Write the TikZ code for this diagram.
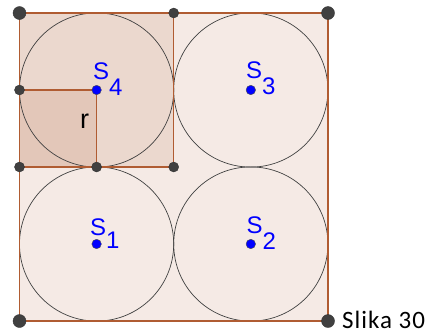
\documentclass[tikz,border=0pt]{standalone}
\usepackage{fontspec}
\usepackage{xcolor}
\setmainfont{Liberation Sans}
\newfontfamily\slikafont[LetterSpace=4]{Carlito}
\definecolor{geobrown}{RGB}{153,51,0}
\definecolor{geoline}{RGB}{176,92,50}
\definecolor{geodot}{RGB}{64,64,64}
\definecolor{geoblue}{RGB}{0,0,255}

\begin{document}
\begin{tikzpicture}[
    x=1pt, y=-1pt,
    area/.style={fill=geobrown, fill opacity=0.1},
    edge/.style={draw=geoline, line width=1.4pt, line join=round},
    ring/.style={draw=black!75, line width=0.7pt},
    bigdot/.style={circle, fill=geodot, draw=black!80, inner sep=0pt, minimum size=13pt},
    dot/.style={circle, fill=geodot, draw=black!80, inner sep=0pt, minimum size=10pt},
    ctrdot/.style={circle, fill=geoblue, draw=black!70, inner sep=0pt, minimum size=9.5pt},
    ctrlabel/.style={text=geoblue, anchor=base west, inner sep=0pt, font=\fontsize{24}{24}\selectfont}
  ]
    \useasboundingbox (0,0) rectangle (441,333);

    % corners and midpoints
    \coordinate (A) at (19.5,321);
    \coordinate (B) at (328,321);
    \coordinate (C) at (328,13);
    \coordinate (D) at (19.5,13);
    \coordinate (E) at (173.7,13);
    \coordinate (F) at (19.5,167);
    \coordinate (G) at (173.7,167);
    \coordinate (H) at (96.6,167);
    \coordinate (K) at (19.5,90);
    % centres
    \coordinate (S1) at (96.6,244);
    \coordinate (S2) at (250.8,244);
    \coordinate (S3) at (250.8,90);
    \coordinate (S4) at (96.6,90);

    \fill[area] (A) -- (B) -- (C) -- (D) -- cycle;
    \fill[area] (F) -- (G) -- (E) -- (D) -- cycle;
    \fill[area] (F) -- (H) -- (S4) -- (K) -- cycle;

    \foreach \s in {S1,S2,S3,S4}
      \draw[ring] (\s) circle[radius=77.1];

    \draw[edge] (A) -- (B) -- (C) -- (D) -- cycle;
    \draw[edge] (F) -- (G) -- (E) -- (D) -- cycle;
    \draw[edge] (F) -- (H) -- (S4) -- (K) -- cycle;

    \foreach \p in {A,B,C,D}
      \node[bigdot] (dot\p) at (\p) {};
    \foreach \p in {E,F,G,H,K}
      \node[dot] (dot\p) at (\p) {};
    \foreach \s in {S1,S2,S3,S4}
      \node[ctrdot] (dot\s) at (\s) {};

    \node[ctrlabel] (labS4) at (93,79) {S\raisebox{-16pt}{4}};
    \node[ctrlabel] (labS3) at (246,78.5) {S\raisebox{-16pt}{3}};
    \node[ctrlabel] (labS1) at (90,235) {S\raisebox{-13.5pt}{1}};
    \node[ctrlabel] (labS2) at (246.5,233.5) {S\raisebox{-15.5pt}{2}};
    \node[anchor=base west, inner sep=0pt, font=\fontsize{27}{27}\selectfont] (labr) at (80,128.3) {r};
    \node[anchor=base west, inner sep=0pt, font=\slikafont\fontsize{25}{25}\selectfont] (slika) at (342,328) {Slika 30};
\end{tikzpicture}
\end{document}
